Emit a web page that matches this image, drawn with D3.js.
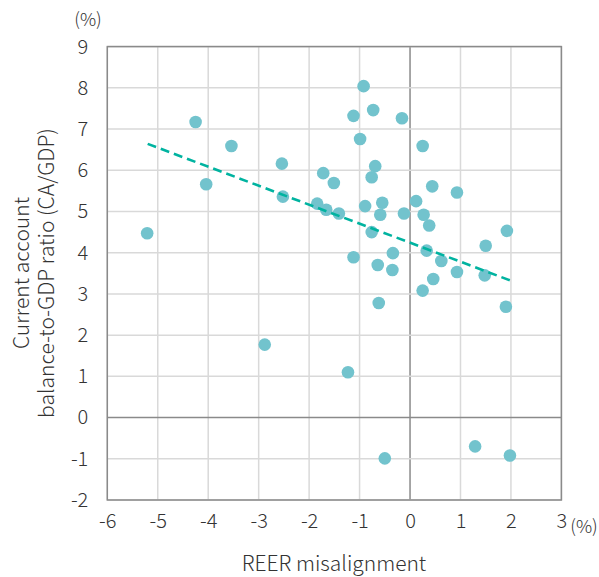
<!DOCTYPE html>
<html>
<head>
<meta charset="utf-8">
<script src="https://cdn.jsdelivr.net/npm/d3@7"></script>
<style>
  body { margin: 0; background: #fff; }
  text { font-family: "Noto Sans CJK JP", "Noto Sans", sans-serif; fill: #333; }
</style>
</head>
<body>
<svg width="599" height="577"></svg>
<script>
// REER misalignment (%) vs CA/GDP (%)
var reer = [-5.21, -4.25, -4.04, -3.54, -2.54, -2.52, -1.72, -1.51, -1.84, -1.66,
            -1.41, -0.92, -1.12, -0.73, -0.16, -0.99, 0.25, -0.69, -0.76, 0.44,
            0.93, 0.12, -0.89, -0.55, -0.59, -0.12, 0.27, 0.38, -0.76, 1.92,
            1.50, 0.33, -1.12, -0.34, -0.64, -0.35, 0.62, 0.93, 1.48, 0.46,
            0.25, -0.62, 1.90, -1.23, -2.88, -0.50, 1.29, 1.98];
var caGdp = [4.47, 7.17, 5.66, 6.59, 6.16, 5.36, 5.93, 5.69, 5.19, 5.04,
             4.95, 8.04, 7.32, 7.46, 7.26, 6.76, 6.59, 6.10, 5.83, 5.61,
             5.46, 5.25, 5.13, 5.21, 4.92, 4.95, 4.92, 4.66, 4.50, 4.53,
             4.17, 4.05, 3.89, 3.99, 3.70, 3.58, 3.80, 3.53, 3.45, 3.36,
             3.08, 2.78, 2.69, 1.10, 1.77, -0.99, -0.70, -0.92];
var trendX = [-5.2, 2.0];
var trendY = [6.64, 3.32];
var xTicks = [-6, -5, -4, -3, -2, -1, 0, 1, 2, 3];
var yTicks = [-2, -1, 0, 1, 2, 3, 4, 5, 6, 7, 8, 9];

var svg = d3.select('svg');

var x = d3.scaleLinear().domain([-6, 3]).range([107.3, 561.4]);
var y = d3.scaleLinear().domain([-2, 9]).range([500, 46.6]);

// grid
svg.append('g')
    .selectAll('line')
    .data(xTicks)
    .enter().append('line')
    .attr('x1', d => x(d)).attr('x2', d => x(d))
    .attr('y1', y(9)).attr('y2', y(-2))
    .style('stroke', d => d === 0 ? '#8a8a8a' : '#d9d9d9')
    .style('stroke-width', 1.5);

svg.append('g')
    .selectAll('line')
    .data(yTicks)
    .enter().append('line')
    .attr('x1', x(-6)).attr('x2', x(3))
    .attr('y1', d => y(d)).attr('y2', d => y(d))
    .style('stroke', d => d === 0 ? '#8a8a8a' : '#d9d9d9')
    .style('stroke-width', 1.5);

// frame
svg.append('rect')
    .attr('x', x(-6))
    .attr('y', y(9))
    .attr('width', x(3) - x(-6))
    .attr('height', y(-2) - y(9))
    .style('fill', 'none')
    .style('stroke', '#8a8a8a')
    .style('stroke-width', 1.5);

// axes labels
var xAxis = d3.axisBottom(x).tickValues(xTicks).tickSize(0).tickPadding(14)
    .tickFormat(d => String(d));
svg.append('g')
    .attr('transform', 'translate(0,' + y(-2) + ')')
    .call(xAxis)
    .call(g => g.select('.domain').remove())
    .selectAll('text')
    .style('font-size', '20px')
    .style('font-family', '"Noto Sans CJK JP", sans-serif')
    .style('font-weight', 300)
    .attr('fill', '#333');

var yAxis = d3.axisLeft(y).tickValues(yTicks).tickSize(0).tickPadding(19)
    .tickFormat(d => String(d));
svg.append('g')
    .attr('transform', 'translate(' + x(-6) + ',0)')
    .call(yAxis)
    .call(g => g.select('.domain').remove())
    .selectAll('text')
    .style('font-size', '20px')
    .style('font-family', '"Noto Sans CJK JP", sans-serif')
    .style('font-weight', 300)
    .attr('fill', '#333');

svg.append('text')
    .attr('x', 88)
    .attr('y', 26)
    .attr('text-anchor', 'middle')
    .style('font-size', '18px')
    .style('font-weight', 300)
    .text('(%)');

svg.append('text')
    .attr('x', 584)
    .attr('y', 533)
    .attr('text-anchor', 'middle')
    .style('font-size', '18px')
    .style('font-weight', 300)
    .text('(%)');

svg.append('text')
    .attr('x', 334)
    .attr('y', 571)
    .attr('text-anchor', 'middle')
    .style('font-size', '21px')
    .style('font-weight', 300)
    .text('REER misalignment');

var yTitle = svg.append('text')
    .attr('transform', 'translate(0,273) rotate(-90)')
    .attr('text-anchor', 'middle')
    .style('font-size', '21px')
    .style('font-weight', 300);
yTitle.append('tspan').attr('x', 0).attr('y', 29).text('Current account');
yTitle.append('tspan').attr('x', 0).attr('y', 54).text('balance-to-GDP ratio (CA/GDP)');

// points
svg.append('g')
    .selectAll('circle')
    .data(reer)
    .enter().append('circle')
    .attr('cx', d => x(d))
    .attr('cy', (d, i) => y(caGdp[i]))
    .attr('r', 6.3)
    .style('fill', '#72c3cd');

// trend line
svg.append('line')
    .attr('x1', x(trendX[0])).attr('y1', y(trendY[0]))
    .attr('x2', x(trendX[1])).attr('y2', y(trendY[1]))
    .style('stroke', '#00b3a0')
    .style('stroke-width', 2.6)
    .style('stroke-dasharray', '9,5');
</script>
</body>
</html>
